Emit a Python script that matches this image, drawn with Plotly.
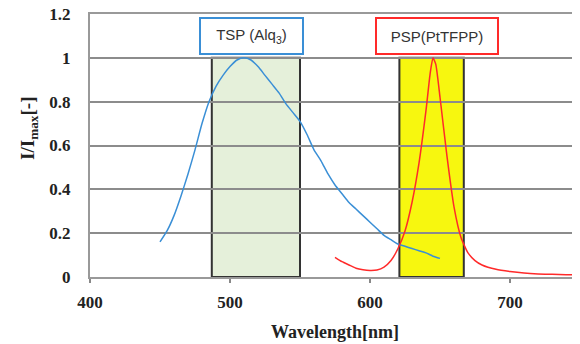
import plotly.graph_objects as go

# TSP (Alq3) emission spectrum
tsp_wl = [450, 455, 460, 465, 470, 475, 480, 485, 490, 495, 500, 505, 510, 515, 520, 525, 530,
          535, 540, 545, 550, 555, 560, 565, 570, 575, 580, 585, 590, 595, 600, 605, 610, 615,
          620, 625, 630, 635, 640, 645, 650]
tsp_val = [0.16, 0.21, 0.28, 0.37, 0.47, 0.58, 0.70, 0.80, 0.87, 0.92, 0.96, 0.99, 1.0, 0.99,
           0.96, 0.92, 0.88, 0.84, 0.79, 0.75, 0.71, 0.65, 0.58, 0.53, 0.47, 0.42, 0.38, 0.34,
           0.31, 0.28, 0.25, 0.22, 0.19, 0.17, 0.15, 0.14, 0.13, 0.12, 0.11, 0.095, 0.085]

# PSP (PtTFPP) emission spectrum
psp_wl = [575, 580, 585, 590, 595, 600, 605, 610, 615, 620, 625, 630, 635, 640, 643, 645, 647,
          650, 655, 660, 665, 670, 675, 680, 690, 700, 710, 720, 730, 740, 750]
psp_val = [0.09, 0.07, 0.055, 0.04, 0.033, 0.03, 0.032, 0.045, 0.075, 0.13, 0.21, 0.34, 0.52,
           0.76, 0.93, 1.0, 0.97, 0.82, 0.55, 0.32, 0.18, 0.11, 0.075, 0.055, 0.035, 0.025,
           0.018, 0.014, 0.012, 0.01, 0.01]

# Filter bands
tsp_band = [487, 550]
psp_band = [621, 667]
band_height = 1.0

# label positions (data coords)
tsp_label_x = 515
psp_label_x = 647.5
label_y = 1.1

x_ticks = [400, 500, 600, 700]
y_ticks = [0, 0.2, 0.4, 0.6, 0.8, 1, 1.2]
y_tick_text = ["0", "0.2", "0.4", "0.6", "0.8", "1", "1.2"]

fig = go.Figure()
fig.add_trace(go.Scatter(x=tsp_wl, y=tsp_val, mode="lines",
                         line=dict(color="#3A8FD6", width=1.5, shape="spline", smoothing=0.6),
                         showlegend=False))
fig.add_trace(go.Scatter(x=psp_wl, y=psp_val, mode="lines",
                         line=dict(color="#FF2A2A", width=1.5, shape="spline", smoothing=0.5),
                         showlegend=False))

fig.add_shape(type="rect", xref="x", yref="y", x0=tsp_band[0], x1=tsp_band[1], y0=0, y1=band_height,
              fillcolor="#E5F0DA", line=dict(color="#333333", width=2), layer="below")
fig.add_shape(type="rect", xref="x", yref="y", x0=psp_band[0], x1=psp_band[1], y0=0, y1=band_height,
              fillcolor="#F7F70F", line=dict(color="#333333", width=2), layer="below")

fig.add_annotation(x=tsp_label_x, y=label_y, xref="x", yref="y",
                   text="TSP (Alq<sub>3</sub>)", showarrow=False,
                   font=dict(family="Liberation Sans, Arial", size=15, color="#333333"),
                   bgcolor="white", bordercolor="#3A8FD6", borderwidth=2, borderpad=2,
                   width=97, height=30)
fig.add_annotation(x=psp_label_x, y=label_y, xref="x", yref="y",
                   text="PSP(PtTFPP)", showarrow=False,
                   font=dict(family="Liberation Sans, Arial", size=15, color="#333333"),
                   bgcolor="white", bordercolor="#FF2A2A", borderwidth=2, borderpad=2,
                   width=116, height=30)

serif = "Liberation Serif, Times New Roman, serif"

# y-axis title placed as rotated text to match the reference's position
fig.add_annotation(xref="paper", yref="paper", x=0, y=0.563, xshift=-61,
                   xanchor="center", yanchor="middle",
                   text="I/I<sub>max</sub>[-]", textangle=-90, showarrow=False,
                   font=dict(family=serif, size=19, color="#222", weight="bold"))

fig.update_xaxes(range=[400, 750], tickvals=x_ticks, ticks="outside", ticklen=4, tickcolor="#888",
                 tickwidth=1.5, automargin=False, mirror=True, ticklabelstandoff=5,
                 showgrid=False, showline=True, linecolor="#999999", linewidth=2,
                 tickfont=dict(family=serif, size=17, color="#222", weight="bold"),
                 title=dict(text="Wavelength[nm]", standoff=14,
                            font=dict(family=serif, size=18, color="#222", weight="bold")),
                 zeroline=False)
fig.update_yaxes(range=[0, 1.2], tickvals=y_ticks, ticktext=y_tick_text, ticks="",
                 showgrid=True, gridcolor="#8C8C8C", gridwidth=2, automargin=False,
                 ticklabeloverflow="allow",
                 showline=True, linecolor="#999999", linewidth=2, zeroline=False,
                 tickfont=dict(family=serif, size=17, color="#222", weight="bold"),
                 ticklabelstandoff=14)

# page body has an 8px default margin, so the figure is sized/offset to compensate
fig.update_layout(width=572, height=336, margin=dict(l=82, r=0, t=6, b=67),
                  plot_bgcolor="white", paper_bgcolor="white")
fig.write_html("out.html")
